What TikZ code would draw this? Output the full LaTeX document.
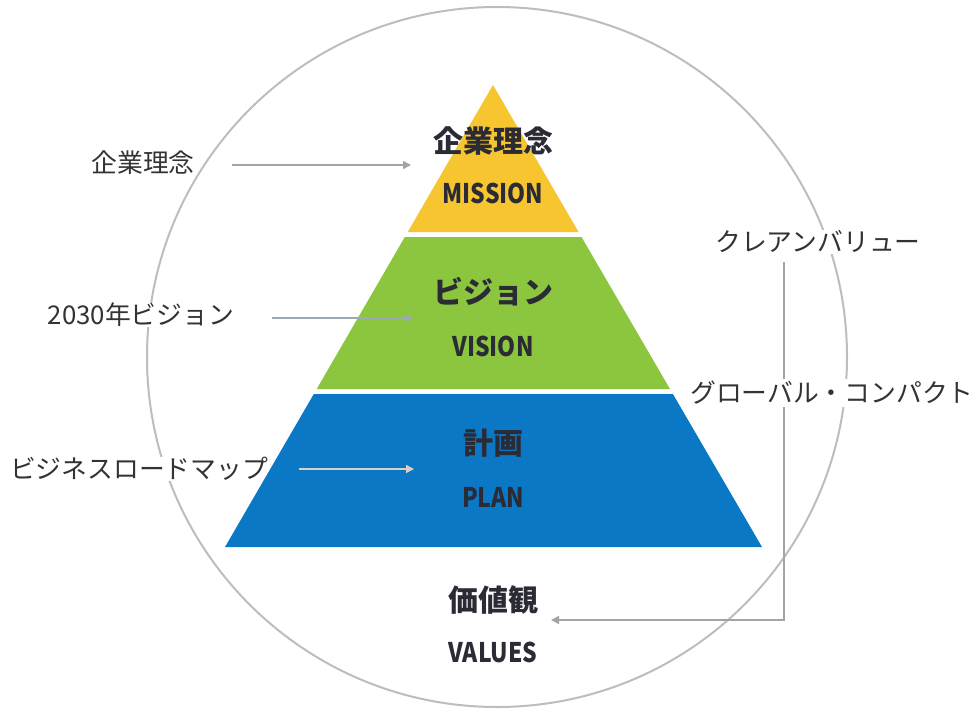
\documentclass[tikz,border=0pt]{standalone}
\usepackage{fontspec}
\usepackage{graphicx}
\setmainfont{Noto Sans CJK JP}
\usetikzlibrary{arrows.meta}
\definecolor{myyellow}{HTML}{F6C52F}
\definecolor{mygreen}{HTML}{8CC63E}
\definecolor{myblue}{HTML}{0B78C6}
\definecolor{txt}{HTML}{2B2B36}
\definecolor{lbl}{HTML}{333333}
\definecolor{ln}{HTML}{A4A4A4}
\definecolor{lnb}{HTML}{9DAAB6}
\definecolor{lnc}{HTML}{DCD0C4}
\definecolor{circ}{HTML}{BDBDBD}
\begin{document}
\begin{tikzpicture}[x=1pt,y=-1pt,
  lab/.style={font=\fontsize{25.8}{30}\selectfont, text=lbl, inner sep=0.5pt, fill=white},
  title/.style={font=\fontsize{30}{34}\selectfont\bfseries, text=txt, inner sep=0pt},
  eng/.style={font=\fontsize{27}{30}\selectfont\bfseries, text=txt, inner sep=0pt},
  arr/.style={line width=1.6pt, -{Triangle[width=8pt,length=8pt]}},
]
\useasboundingbox (0,0) rectangle (980,709);
\draw[circ, line width=2pt] (497,357) circle[radius=350pt];

% side labels
\node[lab] (l1) at (143,163) {企業理念};
\node[lab] (l2) at (141,315) {2030年ビジョン};
\node[lab] (l3) at (139,469) {ビジネスロードマップ};
\node[lab] (cv) at (818,242) {クレアンバリュー};

% pyramid
\fill[myyellow] (493,85) -- (407.7,232) -- (578.6,232) -- cycle;
\fill[mygreen] (404.8,237) -- (581.5,237) -- (670,389) -- (316.7,389) -- cycle;
\fill[myblue] (313.8,394) -- (672.9,394) -- (762,547) -- (225,547) -- cycle;

% pyramid texts
\node[title] (mjp) at (493,141) {企業理念};
\node[eng] (men) at (493,193) {\scalebox{0.85}[1]{MISSION}};
\node[title] (vjp) at (493,292) {ビジョン};
\node[eng] (ven) at (493,346) {\scalebox{0.85}[1]{VISION}};
\node[title] (pjp) at (493,443) {計画};
\node[eng] (pen) at (493,497) {\scalebox{0.85}[1]{PLAN}};
\node[title] (vajp) at (493,600) {価値観};
\node[eng] (vaen) at (493,652) {\scalebox{0.85}[1]{VALUES}};

% arrows from left labels
\coordinate (t1) at (411,165);
\coordinate (t2) at (413,318);
\coordinate (t3) at (414,469);
\draw[arr, draw=ln] ([xshift=37pt]l1.east |- t1) -- (t1);
\draw[arr, draw=lnb] ([xshift=37pt]l2.east |- t2) -- (t2);
\draw[arr, draw=lnc] ([xshift=30pt]l3.east |- t3) -- (t3);

% right connector
\coordinate (corner) at (784,620);
\coordinate (vt) at (551,620);
\draw[arr, draw=ln] ([yshift=-8pt]cv.south -| corner) -- (corner) -- (vt);
\node[lab, inner sep=2pt] (gc) at (832,393) {グローバル・コンパクト};
\end{tikzpicture}
\end{document}
